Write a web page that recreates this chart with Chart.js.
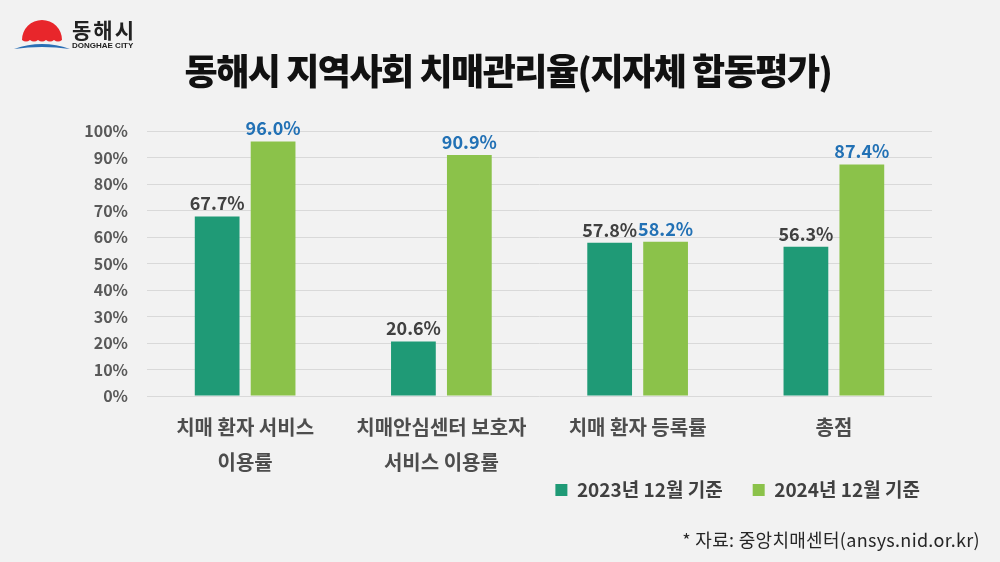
<!DOCTYPE html>
<html>
<head>
<meta charset="utf-8">
<script src="https://cdn.jsdelivr.net/npm/chart.js@4.4.0/dist/chart.umd.min.js"></script>
<style>
  body { margin: 0; background: #f2f2f2; font-family: "Noto Sans CJK KR", "Noto Sans", sans-serif; }
  .page { position: relative; width: 1000px; height: 562px; overflow: hidden; background: #f2f2f2; }
  #chart { position: absolute; left: 0; top: 0; }
  .logo { position: absolute; left: 12px; top: 14px; }
  .logoName { position: absolute; left: 72px; top: 14px; font-size: 21px; font-weight: bold; color: #222; letter-spacing: 2px; }
  .logoSub { position: absolute; left: 72px; top: 41px; font-family: "Liberation Sans", sans-serif; font-size: 8px; font-weight: bold; color: #222; }
  .title { position: absolute; left: 0; width: 1016px; top: 43px; text-align: center; font-size: 36px; font-weight: 900; color: #111; letter-spacing: -1.5px; }
  .source { position: absolute; right: 20px; top: 526px; font-size: 18px; color: #262626; letter-spacing: 0.3px; }
</style>
</head>
<body>
<div class="page">
  <canvas id="chart" width="1000" height="562"></canvas>

  <svg class="logo" width="62" height="40" viewBox="0 0 62 40">
    <path d="M10 26 A20 20 0 0 1 50 26 Q46 29 42 26 Q38 29 34 26 Q30 29 26 26 Q22 29 18 26 Q14 29 10 26 Z" fill="#e8262b"/>
    <path d="M2 35 Q30 25 58 35 Q30 31 2 35 Z" fill="#2a6fb5"/>
  </svg>
  <div class="logoName">동해시</div>
  <div class="logoSub">DONGHAE CITY</div>

  <div class="title">동해시 지역사회 치매관리율(지자체 합동평가)</div>
  <div class="source">* 자료: 중앙치매센터(ansys.nid.or.kr)</div>
</div>

<script>
  const categories = [
    ['치매 환자 서비스', '이용률'],
    ['치매안심센터 보호자', '서비스 이용률'],
    ['치매 환자 등록률'],
    ['총점']
  ];
  const seriesNames = ['2023년 12월 기준', '2024년 12월 기준'];
  const values2023 = [67.7, 20.6, 57.8, 56.3];
  const values2024 = [96.0, 90.9, 58.2, 87.4];
  const yTicks = [0, 10, 20, 30, 40, 50, 60, 70, 80, 90, 100];

  const labelColors = ['#404040', '#2271b5'];

  // value labels above each bar
  const barLabels = {
    id: 'barLabels',
    afterDatasetsDraw(chart) {
      const ctx = chart.ctx;
      ctx.save();
      ctx.font = 'bold 18px "Noto Sans CJK KR"';
      ctx.textAlign = 'center';
      ctx.textBaseline = 'bottom';
      chart.data.datasets.forEach((ds, i) => {
        const meta = chart.getDatasetMeta(i);
        ctx.fillStyle = labelColors[i];
        meta.data.forEach((bar, j) => {
          ctx.fillText(ds.data[j].toFixed(1) + '%', bar.x, bar.y - 4);
        });
      });
      ctx.restore();
    }
  };

  // move the legend up/right to where the reference has it
  const legendMove = {
    id: 'legendMove',
    afterLayout(chart) {
      const lg = chart.legend;
      const dy = 450.5 - lg.top;
      lg.top += dy;
      lg.bottom += dy;
      lg.left += 18;
      lg.right += 18;
    }
  };

  new Chart(document.getElementById('chart').getContext('2d'), {
    type: 'bar',
    data: {
      labels: categories,
      datasets: [
        { label: seriesNames[0], data: values2023, backgroundColor: '#1f9a76' },
        { label: seriesNames[1], data: values2024, backgroundColor: '#8bc24a' }
      ]
    },
    options: {
      responsive: false,
      animation: false,
      devicePixelRatio: 1,
      categoryPercentage: 0.57,
      barPercentage: 0.8,
      layout: { padding: { left: 0, right: 68, top: 131, bottom: 17 } },
      plugins: {
        tooltip: { enabled: false },
        legend: {
          position: 'bottom',
          align: 'end',
          labels: {
            boxWidth: 12,
            boxHeight: 12,
            padding: 30,
            color: '#404040',
            font: { family: '"Noto Sans CJK KR"', size: 19, weight: 'bold' }
          }
        }
      },
      scales: {
        x: {
          grid: { display: false },
          border: { display: false },
          ticks: {
            padding: 6,
            color: '#4d4d4d',
            font: { family: '"Noto Sans CJK KR"', size: 20, weight: 'bold', lineHeight: 1.75 }
          }
        },
        y: {
          min: 0,
          max: 100,
          afterBuildTicks(scale) { scale.ticks = yTicks.map(v => ({ value: v })); },
          afterFit(scale) { scale.width = 147; },
          grid: { color: '#d9d9d9', lineWidth: 1, drawTicks: false },
          border: { display: false },
          ticks: {
            padding: 19,
            color: '#595959',
            font: { family: '"Noto Sans CJK KR"', size: 16, weight: 'bold' },
            callback: v => v + '%'
          }
        }
      }
    },
    plugins: [barLabels, legendMove]
  });
</script>
</body>
</html>
